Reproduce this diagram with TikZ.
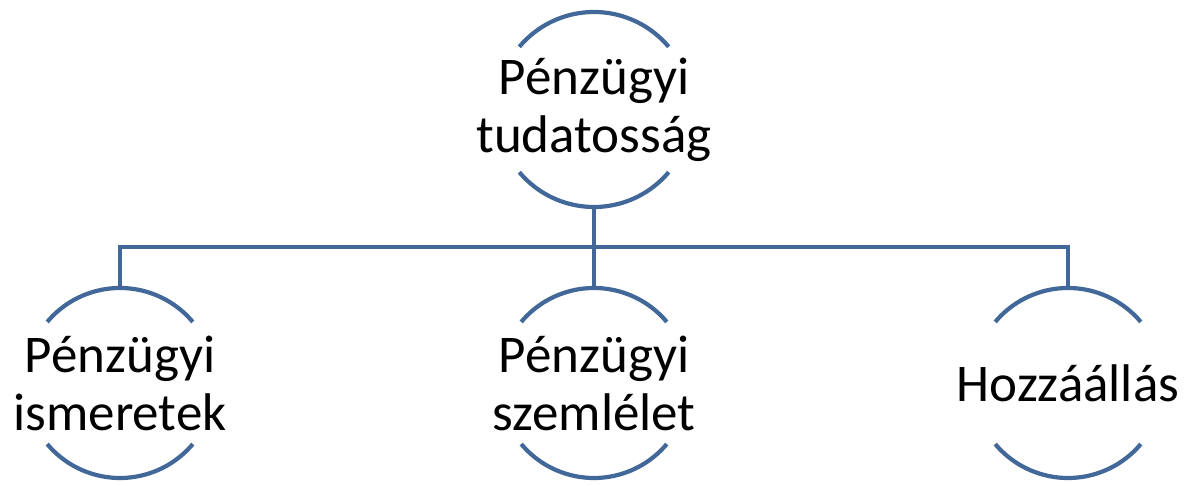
\documentclass[tikz,border=0pt]{standalone}
\usepackage{fontspec}
\setmainfont{Carlito}
\definecolor{arcblue}{RGB}{66,104,154}
\begin{document}
\begin{tikzpicture}[x=1pt,y=1pt,
  ring/.style={circle,draw=none,inner sep=0pt,outer sep=0pt,minimum size=#1},
  lbl/.style={align=center,inner sep=0pt,font=\fontsize{53}{58}\selectfont},
  ln/.style={draw=arcblue,line width=4.2pt}]
\useasboundingbox (0,0) rectangle (1185,486);
\node[ring=195pt] (top) at (594,376.5) {};
\node[ring=190pt] (c1) at (120,103) {};
\node[ring=190pt] (c2) at (594,103) {};
\node[ring=190pt] (c3) at (1068,103) {};
\node[lbl] (ttop) at (top.center) {Pénzügyi\\tudatosság};
\node[lbl] (t1) at (c1.center) {Pénzügyi\\ismeretek};
\node[lbl] (t2) at (c2.center) {Pénzügyi\\szemlélet};
\node[lbl] (t3) at (c3.center) {Hozzáállás};
\draw[ln] (top.40) arc[start angle=40,end angle=140,radius=97.5pt];
\draw[ln] (top.220) arc[start angle=220,end angle=320,radius=97.5pt];
\foreach \n in {c1,c2,c3}{
  \draw[ln] (\n.40) arc[start angle=40,end angle=140,radius=95pt];
  \draw[ln] (\n.220) arc[start angle=220,end angle=320,radius=95pt];
}
\coordinate (bus) at (594,239);
\draw[ln] (top.south) -- (c2.north);
\draw[ln] (c1.north) |- (bus) -| (c3.north);
\end{tikzpicture}
\end{document}
